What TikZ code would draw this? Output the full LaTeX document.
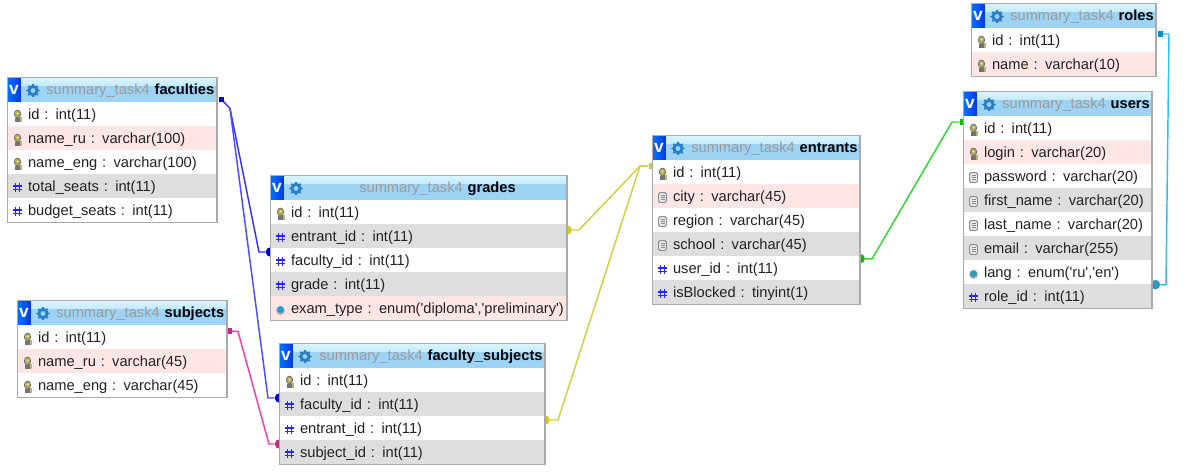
\documentclass[tikz,border=0pt]{standalone}
\usepackage{fontspec}
\newfontfamily\arial{Liberation Sans}
\usetikzlibrary{fit,backgrounds}
\definecolor{rowpink}{HTML}{FFE6E6}
\definecolor{rowgrey}{HTML}{DEDEDE}
\definecolor{rowwhite}{HTML}{FFFFFF}
\definecolor{hdr}{HTML}{9DD4F6}
\definecolor{hdrtop}{HTML}{D8F4FF}
\definecolor{titlegrey}{HTML}{9A9A9A}
\definecolor{rowtext}{HTML}{222222}
\definecolor{framegrey}{HTML}{AAAAAA}
\tikzset{
  x=0.75pt,y=-0.75pt,
  every node/.style={font=\arial\fontsize{11}{13}\selectfont},
  rowbox/.style={anchor=north west,inner xsep=0pt,inner ysep=0pt,minimum height=18pt,text height=9.5pt,text depth=2pt,align=left,text=rowtext},
  headbox/.style={rowbox,fill=hdr,minimum height=18.5pt,text height=9.5pt,text depth=2.4pt,
    path picture={\shade[top color=hdrtop,bottom color=hdr] (path picture bounding box.north west) rectangle ([yshift=-6pt]path picture bounding box.north east);}},
  framebox/.style={draw=framegrey,line width=1.1pt,inner sep=0pt,fill=none},
  link/.style={line width=1.1pt,line join=round},
  sqport/.style={rectangle,minimum size=3.8pt,inner sep=0pt},
  dotport/.style={circle,minimum size=7.2pt,inner sep=0pt},
}
\newcounter{rowc}
\newcommand\tblname{}
\newcommand\tblx{}
\newcommand\tbly{}
\newcommand\tblw{}
\newcommand\dbtable[6]{% name,x,y,w,title x,title
  \renewcommand\tblname{#1}\renewcommand\tblx{#2}\renewcommand\tbly{#3}\renewcommand\tblw{#4}%
  \setcounter{rowc}{0}%
  \pgfmathsetmacro\twpt{#4*0.75}%
  \pgfmathsetmacro\tgap{(#5-#2)*0.75}%
  \node[headbox,text width=\twpt pt] (#1-head) at (#2,#3) {\hspace*{\tgap pt}\textcolor{titlegrey}{summary\_task4} \textcolor{black}{\bfseries #6}};
  \fill[left color=blue!55!cyan,right color=blue!75!cyan!90!black] (#2,#3) rectangle ++(13,24.5);
  \node[text=white,inner sep=0pt] (#1-v) at (#2+6.5,#3+12) {\fontsize{13}{13}\selectfont\bfseries v};
  \begin{scope}[shift={(#2+25.5,#3+13)}]
    \draw[line width=2.2pt,color=cyan!55!blue!90] (0,0) circle (3.1pt);
    \foreach \a in {0,45,...,315}{\draw[line width=1.2pt,color=cyan!55!blue!90] (\a:3.5pt) -- (\a:5pt);}
  \end{scope}
}
\newcommand\keyicon{%
  \fill[color=black!45!yellow!70!white] (0,1) rectangle (4,6);
  \draw[line width=.5pt,color=black!60,fill=yellow!55!black!80] (0,-1.5) ellipse (2.4pt and 3pt);
  \fill[color=black!55] (-2.5,2) rectangle (2.5,6);
  \fill[color=yellow!60!white] (0,-2) circle (.9pt);
}
\newcommand\hashicon{%
  \draw[line width=.9pt,color=blue!85!white] (-1.8,-4.5) -- (-1.8,4.5) (1.8,-4.5) -- (1.8,4.5) (-4.2,-1.5) -- (4.2,-1.5) (-4.2,1.8) -- (4.2,1.8);
}
\newcommand\fieldicon{%
  \draw[line width=.7pt,color=black!45,fill=black!10,rounded corners=1.2pt] (-4,-5) rectangle (4,5);
  \draw[line width=.4pt,color=black!45] (-2,-2) -- (2,-2) (-2,0) -- (2,0) (-2,2) -- (2,2);
}
\newcommand\enumicon{%
  \fill[color=black!35] (0,1) circle (3.2pt);
  \fill[color=cyan!60!teal] (0,0) circle (2.6pt);
}
\newcommand\dbrow[3]{% icon,fill,text
  \stepcounter{rowc}%
  \pgfmathsetmacro\ry{\tbly+24.5+24*(\value{rowc}-1)}%
  \pgfmathsetmacro\tgapb{15.2}%
  \node[rowbox,fill=#2,text width=\twpt pt] (\tblname-r\arabic{rowc}) at (\tblx,\ry) {\hspace*{\tgapb pt}#3};
  \begin{scope}[shift={(\tblx+10,\ry+13.5)}]#1\end{scope}
}
\newcommand\closetbl{%
  \node[framebox,fit=(\tblname-head)(\tblname-r\arabic{rowc})] (\tblname) {};
}
\pagestyle{empty}
\begin{document}
\begin{tikzpicture}
\useasboundingbox (0,0) rectangle (1186,475);
% ---------- tables
\dbtable{faculties}{7.5}{77.5}{209}{46}{faculties}
\dbrow{\keyicon}{rowwhite}{id : int(11)}
\dbrow{\keyicon}{rowpink}{name\_ru : varchar(100)}
\dbrow{\keyicon}{rowwhite}{name\_eng : varchar(100)}
\dbrow{\hashicon}{rowgrey}{total\_seats : int(11)}
\dbrow{\hashicon}{rowwhite}{budget\_seats : int(11)}
\closetbl

\dbtable{grades}{270.5}{175.5}{296}{359}{grades}
\dbrow{\keyicon}{rowwhite}{id : int(11)}
\dbrow{\hashicon}{rowgrey}{entrant\_id : int(11)}
\dbrow{\hashicon}{rowwhite}{faculty\_id : int(11)}
\dbrow{\hashicon}{rowgrey}{grade : int(11)}
\dbrow{\enumicon}{rowpink}{exam\_type : enum('diploma','preliminary')}
\closetbl

\dbtable{subjects}{17.5}{300.5}{209}{56}{subjects}
\dbrow{\keyicon}{rowwhite}{id : int(11)}
\dbrow{\keyicon}{rowpink}{name\_ru : varchar(45)}
\dbrow{\keyicon}{rowwhite}{name\_eng : varchar(45)}
\closetbl

\dbtable{faculty_subjects}{279.5}{343.5}{265}{319}{faculty\_subjects}
\dbrow{\keyicon}{rowwhite}{id : int(11)}
\dbrow{\hashicon}{rowgrey}{faculty\_id : int(11)}
\dbrow{\hashicon}{rowwhite}{entrant\_id : int(11)}
\dbrow{\hashicon}{rowgrey}{subject\_id : int(11)}
\closetbl

\dbtable{entrants}{652.5}{135.5}{207}{691}{entrants}
\dbrow{\keyicon}{rowwhite}{id : int(11)}
\dbrow{\fieldicon}{rowpink}{city : varchar(45)}
\dbrow{\fieldicon}{rowwhite}{region : varchar(45)}
\dbrow{\fieldicon}{rowgrey}{school : varchar(45)}
\dbrow{\hashicon}{rowwhite}{user\_id : int(11)}
\dbrow{\hashicon}{rowgrey}{isBlocked : tinyint(1)}
\closetbl

\dbtable{roles}{971.5}{3.5}{184}{1010}{roles}
\dbrow{\keyicon}{rowwhite}{id : int(11)}
\dbrow{\keyicon}{rowpink}{name : varchar(10)}
\closetbl

\dbtable{users}{963.5}{91.5}{188}{1002}{users}
\dbrow{\keyicon}{rowwhite}{id : int(11)}
\dbrow{\keyicon}{rowpink}{login : varchar(20)}
\dbrow{\fieldicon}{rowwhite}{password : varchar(20)}
\dbrow{\fieldicon}{rowgrey}{first\_name : varchar(20)}
\dbrow{\fieldicon}{rowwhite}{last\_name : varchar(20)}
\dbrow{\fieldicon}{rowgrey}{email : varchar(255)}
\dbrow{\enumicon}{rowwhite}{lang : enum('ru','en')}
\dbrow{\hashicon}{rowgrey}{role\_id : int(11)}
\closetbl

% ---------- connectors behind the tables
\begin{scope}[on background layer]
\fill[white] (0,0) rectangle (1186,475);
% ports
\node[sqport,fill=blue!80!black,xshift=3pt,yshift=2.2pt] (fac-out) at (faculties-r1.north east) {};
\node[dotport,fill=blue!80!black,yshift=-3pt] (gr-fac) at (grades-r3.north west) {};
\node[dotport,fill=blue!80!black,yshift=-4.5pt] (fs-fac) at (faculty_subjects-r2.north west) {};
\node[sqport,fill=magenta!80!black,xshift=1.8pt,yshift=-4.5pt] (sub-out) at (subjects-r1.north east) {};
\node[dotport,fill=magenta!80!black,yshift=-3pt] (fs-sub) at (faculty_subjects-r4.north west) {};
\node[dotport,fill=yellow!80!black,yshift=-4.5pt] (gr-ent) at (grades-r2.north east) {};
\node[dotport,fill=yellow!80!black,yshift=-3pt] (fs-ent) at (faculty_subjects-r3.north east) {};
\node[sqport,fill=yellow!80!black,xshift=-1pt,yshift=-4.5pt] (ent-in) at (entrants-r1.north west) {};
\node[dotport,fill=green!75!black,yshift=-2pt] (ent-usr) at (entrants-r5.north east) {};
\node[sqport,fill=green!75!black,xshift=-1pt,yshift=-4.5pt] (usr-in) at (users-r1.north west) {};
\node[dotport,fill=cyan!80!black,xshift=2.5pt,yshift=-.5pt] (usr-rol) at (users-r8.north east) {};
\node[sqport,fill=cyan!70!blue!85!green,xshift=3pt,yshift=-4.5pt] (rol-out) at (roles-r1.north east) {};
% links
\draw[link,color=blue!80!white] (fac-out) -- (230,108.5) -- (259,252) -- (gr-fac);
\draw[link,color=blue!70!white] (fac-out) -- (230,108.5) -- (268,398) -- (fs-fac);
\draw[link,color=magenta!75!white] (sub-out) -- (238,331.5) -- (269,444) -- (fs-sub);
\draw[link,color=yellow!80!black!90!white] (gr-ent) -- (579,230) -- (640,166) -- (ent-in);
\draw[link,color=yellow!80!black!90!white] (fs-ent) -- (558,420) -- (640,166) -- (ent-in);
\draw[link,color=green!80!black!80!white] (ent-usr) -- (872,259) -- (952,122) -- (usr-in);
\draw[link,color=cyan!80!white] (usr-rol) -- (1166,285) -- (1169,34) -- (rol-out);
\end{scope}
\end{tikzpicture}
\end{document}
